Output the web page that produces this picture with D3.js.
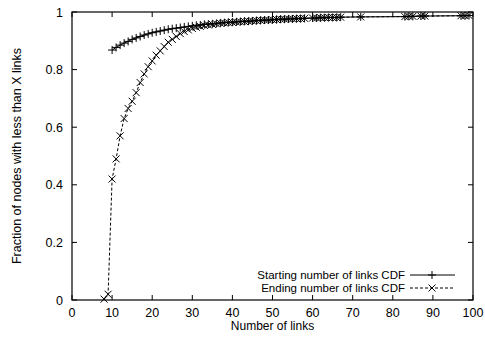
<!DOCTYPE html>
<html>
<head>
<meta charset="utf-8">
<script src="https://cdn.jsdelivr.net/npm/d3@7"></script>
<style>
  body { margin: 0; background: #fff; }
  svg { display: block; font-family: "Liberation Sans", Arial, sans-serif; }
</style>
</head>
<body>
<svg id="chart" width="485" height="341"></svg>
<script>
const xTicks = [0, 10, 20, 30, 40, 50, 60, 70, 80, 90, 100];
const yTicks = [0, 0.2, 0.4, 0.6, 0.8, 1];
const yTickLabels = ["0", "0.2", "0.4", "0.6", "0.8", "1"];

const startX = [10,11,12,13,14,15,16,17,18,19,20,21,22,23,24,25,26,27,28,29,30,31,32,33,34,35,36,37,38,39,40,41,42,43,44,45,46,47,48,49,50,51,52,53,54,55,56,57,58,60,61,62,63,64,65,66,67,72,83,84,85,87,88,97,98,99];
const startY = [0.868,0.877,0.885,0.892,0.898,0.905,0.910,0.915,0.920,0.924,0.928,0.931,0.934,0.937,0.940,0.942,0.944,0.946,0.948,0.950,0.952,0.954,0.955,0.957,0.958,0.959,0.960,0.962,0.963,0.964,0.965,0.966,0.967,0.968,0.968,0.969,0.970,0.971,0.972,0.972,0.973,0.974,0.975,0.975,0.976,0.976,0.977,0.977,0.978,0.979,0.979,0.980,0.980,0.981,0.981,0.981,0.982,0.983,0.984,0.985,0.985,0.986,0.986,0.987,0.987,0.988];

const endX = [8,9,10,11,12,13,14,15,16,17,18,19,20,21,22,23,24,25,26,27,28,29,30,31,32,33,34,35,36,37,38,39,40,41,42,43,44,45,46,47,48,49,50,51,52,53,54,55,56,57,58,60,61,62,63,64,65,66,67,72,83,84,85,87,88,97,98,99];
const endY = [0.003,0.02,0.42,0.49,0.57,0.63,0.665,0.69,0.72,0.755,0.785,0.81,0.83,0.85,0.865,0.88,0.895,0.905,0.915,0.925,0.932,0.938,0.943,0.947,0.950,0.953,0.955,0.957,0.959,0.961,0.962,0.963,0.964,0.965,0.966,0.967,0.968,0.969,0.970,0.971,0.972,0.972,0.973,0.974,0.975,0.975,0.976,0.976,0.977,0.977,0.978,0.979,0.979,0.980,0.980,0.981,0.981,0.981,0.982,0.983,0.984,0.985,0.985,0.986,0.986,0.987,0.987,0.988];

const seriesNames = ["Starting number of links CDF", "Ending number of links CDF"];

const svg = d3.select("#chart");
const m = {left: 72, right: 12, top: 12, bottom: 41};
const W = 485, H = 341;
const x = d3.scaleLinear().domain([0, 100]).range([m.left, W - m.right]);
const y = d3.scaleLinear().domain([0, 1]).range([H - m.bottom, m.top]);

const tick = 5;
const g = svg.append("g");

// ticks, mirrored on all sides
xTicks.forEach(v => {
  g.append("line").attr("x1", x(v)).attr("x2", x(v)).attr("y1", y(0)).attr("y2", y(0) - tick).attr("stroke", "#000");
  g.append("line").attr("x1", x(v)).attr("x2", x(v)).attr("y1", y(1)).attr("y2", y(1) + tick).attr("stroke", "#000");
  g.append("text").attr("x", x(v)).attr("y", y(0) + 17).attr("text-anchor", "middle")
    .attr("font-size", 12.5).text(v);
});
yTicks.forEach((v, i) => {
  g.append("line").attr("x1", x(0)).attr("x2", x(0) + tick).attr("y1", y(v)).attr("y2", y(v)).attr("stroke", "#000");
  g.append("line").attr("x1", x(100)).attr("x2", x(100) - tick).attr("y1", y(v)).attr("y2", y(v)).attr("stroke", "#000");
  g.append("text").attr("x", x(0) - 9).attr("y", y(v) + 4.5).attr("text-anchor", "end")
    .attr("font-size", 12.5).text(yTickLabels[i]);
});

g.append("rect").attr("x", x(0)).attr("y", y(1)).attr("width", x(100) - x(0)).attr("height", y(0) - y(1))
  .attr("fill", "none").attr("stroke", "#000").attr("stroke-width", 1.2);

g.append("text").attr("x", (x(0) + x(100)) / 2).attr("y", 330).attr("text-anchor", "middle")
  .attr("font-size", 12).text("Number of links");
g.append("text").attr("transform", `translate(21,${(y(0) + y(1)) / 2}) rotate(-90)`)
  .attr("text-anchor", "middle").attr("font-size", 12.5).text("Fraction of nodes with less than X links");

const line = d3.line().x(d => x(d[0])).y(d => y(d[1]));
const startData = startX.map((v, i) => [v, startY[i]]);
const endData = endX.map((v, i) => [v, endY[i]]);

const plusPath = s => `M${-s},0H${s}M0,${-s}V${s}`;
const crossPath = s => `M${-s},${-s}L${s},${s}M${-s},${s}L${s},${-s}`;

g.append("path").datum(endData).attr("d", line).attr("fill", "none").attr("stroke", "#000")
  .attr("stroke-width", 1).attr("stroke-dasharray", "3,2");
g.append("path").datum(startData).attr("d", line).attr("fill", "none").attr("stroke", "#000").attr("stroke-width", 1);

g.selectAll(".pe").data(endData).enter().append("path")
  .attr("transform", d => `translate(${x(d[0])},${y(d[1])})`)
  .attr("d", crossPath(3.5)).attr("stroke", "#000").attr("fill", "none");
g.selectAll(".ps").data(startData).enter().append("path")
  .attr("transform", d => `translate(${x(d[0])},${y(d[1])})`)
  .attr("d", plusPath(4)).attr("stroke", "#000").attr("fill", "none");

// legend
const lg = g.append("g");
[0, 1].forEach(i => {
  const ly = 275 + i * 13;
  lg.append("text").attr("x", 405).attr("y", ly + 4).attr("text-anchor", "end").attr("font-size", 11.5).text(seriesNames[i]);
  lg.append("line").attr("x1", 410).attr("x2", 455).attr("y1", ly).attr("y2", ly).attr("stroke", "#000")
    .attr("stroke-dasharray", i ? "3,2" : null);
  lg.append("path").attr("transform", `translate(432,${ly})`).attr("d", i ? crossPath(3.5) : plusPath(4))
    .attr("stroke", "#000").attr("fill", "none");
});
</script>
</body>
</html>
